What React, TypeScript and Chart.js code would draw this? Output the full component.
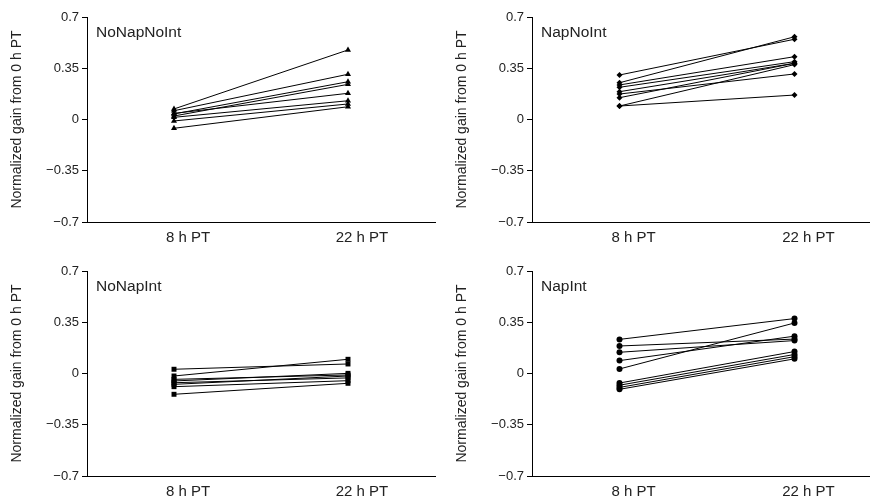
import React, { useEffect, useRef } from 'react';
import { Chart, registerables } from 'chart.js';

Chart.register(...registerables);

const categories = ['8 h PT', '22 h PT'];
const yTickValues = [-0.7, -0.35, 0, 0.35, 0.7];
const yTitle = 'Normalized gain from 0 h PT';

const noNapNoInt8h = [0.072, 0.06, 0.038, 0.024, 0.042, 0.015, -0.01, -0.06];
const noNapNoInt22h = [0.475, 0.309, 0.258, 0.24, 0.179, 0.128, 0.106, 0.087];

const napNoInt8h = [0.304, 0.251, 0.236, 0.22, 0.19, 0.174, 0.149, 0.092, 0.092];
const napNoInt22h = [0.548, 0.565, 0.429, 0.395, 0.384, 0.311, 0.384, 0.375, 0.167];

const noNapInt8h = [0.029, -0.017, -0.04, -0.051, -0.063, -0.074, -0.09, -0.142];
const noNapInt22h = [0.065, 0.097, -0.01, 0.001, -0.03, -0.017, -0.049, -0.067];

const napInt8h = [0.233, 0.188, 0.145, 0.088, 0.031, -0.065, -0.08, -0.095, -0.108];
const napInt22h = [0.375, 0.235, 0.225, 0.255, 0.345, 0.15, 0.13, 0.115, 0.1];

const FONT = '"Liberation Sans", Arial, Helvetica, sans-serif';
const INK = '#222';

type PanelProps = {
  label: string;
  a: number[];
  b: number[];
  pointStyle: string;
  radius: number;
  left: number;
  top: number;
  padRight: number;
};

function Panel({ label, a, b, pointStyle, radius, left, top, padRight }: PanelProps) {
  const ref = useRef<HTMLCanvasElement>(null);
  useEffect(() => {
    if (!ref.current) return;
    const datasets = a.map((v, i) => ({
      data: [v, b[i]],
      borderColor: '#000',
      backgroundColor: '#000',
      borderWidth: 1,
      pointStyle: pointStyle as any,
      pointRadius: radius,
      pointBorderWidth: 0,
      pointBackgroundColor: '#000',
      fill: false,
      tension: 0,
    }));
    const labelPlugin = {
      id: 'panelLabel',
      afterDraw(chart: any) {
        const { ctx, chartArea } = chart;
        ctx.save();
        ctx.font = `15.5px ${FONT}`;
        ctx.fillStyle = INK;
        ctx.textBaseline = 'middle';
        ctx.textAlign = 'left';
        ctx.fillText(label, chartArea.left + 9, chartArea.top + 16);
        ctx.restore();
      },
    };
    const chart = new Chart(ref.current, {
      type: 'line',
      data: { labels: categories, datasets },
      plugins: [labelPlugin],
      options: {
        responsive: false,
        animation: false,
        layout: { padding: { top: 17, right: padRight, left: 0, bottom: 0 } },
        plugins: { legend: { display: false }, tooltip: { enabled: false } },
        scales: {
          x: {
            type: 'category',
            offset: true,
            grid: { display: true, drawOnChartArea: false, drawTicks: false, color: 'transparent' },
            border: { display: true, color: '#000', width: 1 },
            ticks: { color: INK, font: { family: FONT, size: 15 }, padding: 7, labelOffset: 14 },
            afterFit(scale: any) {
              scale.height = 28;
            },
          },
          y: {
            min: -0.7,
            max: 0.7,
            afterBuildTicks(scale: any) {
              scale.ticks = yTickValues.map((v) => ({ value: v }));
            },
            grid: { display: true, drawOnChartArea: false, drawTicks: true, tickLength: 5, color: '#000' },
            border: { display: true, color: '#000', width: 1 },
            ticks: {
              color: INK,
              font: { family: FONT, size: 13 },
              padding: 3,
              callback: (v: any) => {
                const n = Number(v);
                return n < 0 ? '\u2212' + String(Math.abs(n)) : String(n);
              },
            },
            title: {
              display: true,
              text: yTitle,
              color: INK,
              font: { family: FONT, size: 14 },
              padding: { top: 9, bottom: 0 },
            },
            afterFit(scale: any) {
              scale.width = 87;
            },
          },
        },
      } as any,
    });
    return () => chart.destroy();
  }, []);
  return (
    <div style={{ position: 'absolute', left, top, width: 445, height: 250 }}>
      <canvas ref={ref} width={445} height={250} style={{ display: 'block' }} />
    </div>
  );
}

export default function App() {
  return (
    <div
      style={{
        position: 'fixed',
        left: 0,
        top: 0,
        width: 870,
        height: 498,
        overflow: 'hidden',
        background: '#fff',
      }}
    >
      <Panel label="NoNapNoInt" a={noNapNoInt8h} b={noNapNoInt22h} pointStyle="triangle" radius={3.5} left={0} top={0} padRight={10} />
      <Panel label="NapNoInt" a={napNoInt8h} b={napNoInt22h} pointStyle="rectRot" radius={3} left={445} top={0} padRight={8} />
      <Panel label="NoNapInt" a={noNapInt8h} b={noNapInt22h} pointStyle="rect" radius={3.5} left={0} top={254} padRight={10} />
      <Panel label="NapInt" a={napInt8h} b={napInt22h} pointStyle="circle" radius={3} left={445} top={254} padRight={8} />
    </div>
  );
}
